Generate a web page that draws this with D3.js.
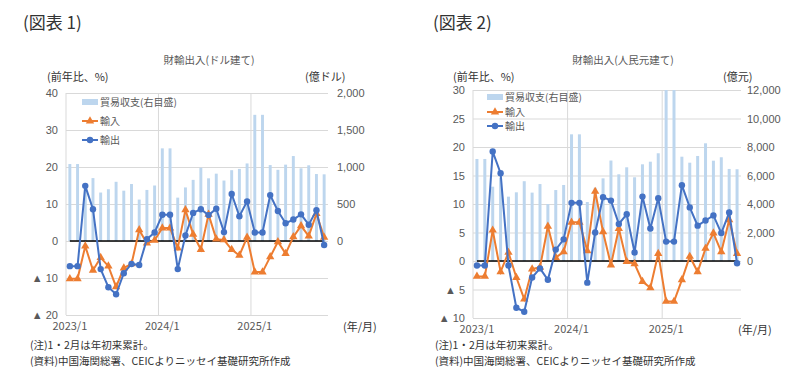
<!DOCTYPE html>
<html>
<head>
<meta charset="utf-8">
<script src="https://cdn.jsdelivr.net/npm/d3@7"></script>
<style>
  body { margin: 0; background: #fff; }
  svg { display: block; font-family: "Noto Sans CJK JP", "Noto Sans", sans-serif; }
</style>
</head>
<body>
<svg id="chart" width="800" height="392"></svg>
<script>
// months 2023/1 .. 2025/10 (1・2月は年初来累計なので同じ値)
var months = ["2023/1","2023/2","2023/3","2023/4","2023/5","2023/6","2023/7","2023/8","2023/9","2023/10","2023/11","2023/12",
  "2024/1","2024/2","2024/3","2024/4","2024/5","2024/6","2024/7","2024/8","2024/9","2024/10","2024/11","2024/12",
  "2025/1","2025/2","2025/3","2025/4","2025/5","2025/6","2025/7","2025/8","2025/9","2025/10"]
var xTickLabels = ["2023/1", "2024/1", "2025/1"]

// 図表1 ドル建て
var balanceUsd = [1040,1040,760,850,655,700,800,680,770,560,690,750,
  1252,1252,586,724,826,990,847,910,817,957,974,1048,
  1705,1705,1026,962,1032,1148,982,1023,905,901]
var importUsd = [-10.2,-10.2,-1.4,-7.9,-4.5,-6.8,-12.4,-7.3,-6.2,3.0,-0.6,0.2,
  3.5,3.5,-1.9,8.4,1.8,-2.3,7.2,0.5,0.3,-2.3,-3.9,1.0,
  -8.4,-8.4,-4.3,-0.2,-3.4,1.1,4.1,1.3,7.4,1.0]
var exportUsd = [-6.8,-6.8,14.9,8.6,-7.6,-12.5,-14.4,-8.7,-6.2,-6.5,0.5,2.3,
  7.1,7.1,-7.6,1.5,7.6,8.6,7.0,8.7,2.4,12.7,6.7,10.7,
  2.3,2.3,12.4,8.1,4.8,5.8,7.2,4.4,8.3,-1.1]
var leftTicks1 = [40, 30, 20, 10, 0, -10, -20]
var rightTicks1 = [2000, 1500, 1000, 500, 0]

// 図表2 人民元建て
var balanceRmb = [7160,7160,5215,5850,4515,4820,5600,4800,5400,4000,4980,5335,
  8890,8890,4140,5140,5800,7050,6085,6575,5875,6785,6970,7560,
  12240,12240,7320,6900,7370,8260,7040,7280,6460,6440]
var importRmb = [-2.7,-2.7,5.4,-1.9,1.5,-2.9,-6.7,-1.4,-1.1,6.1,0.6,1.6,
  6.8,6.8,1.8,12.2,5.1,-0.7,5.7,-0.1,-0.5,-3.6,-4.7,1.3,
  -7.1,-7.1,-3.3,0.8,-1.9,2.2,4.9,1.6,7.2,1.3]
var exportRmb = [-0.8,-0.8,19.2,15.4,-0.8,-8.2,-8.9,-2.9,-1.3,-3.3,2.0,3.8,
  10.2,10.2,-3.8,5.0,11.2,10.6,6.5,8.2,1.5,11.3,5.7,11.0,
  3.4,3.4,13.3,9.4,6.2,7.1,8.0,4.9,8.5,-0.4]
var leftTicks2 = [30, 25, 20, 15, 10, 5, 0, -5, -10]
var rightTicks2 = [12000, 10000, 8000, 6000, 4000, 2000, 0]

var notes = ["(注)1・2月は年初来累計。", "(資料)中国海関総署、CEICよりニッセイ基礎研究所作成"]

var colors = { bar: "#bdd6ee", exp: "#4472c4", imp: "#ed7d31", grid: "#d9d9d9", text: "#595959" }

var svg = d3.select("#chart")

function fmt(v) {
  return v < 0 ? "▲ " + (-v) : d3.format(",")(v)
}

function drawChart(c) {
  var g = svg.append("g")
  var w = c.x1 - c.x0

  var x = d3.scaleBand().domain(months).range([c.x0, c.x1])
  var yL = d3.scaleLinear().domain(c.leftDomain).range([c.yBottom, c.yTop])
  var yR = d3.scaleLinear().domain(c.rightDomain).range([c.yBottom, c.yTop])
  var cx = d => x(d) + x.bandwidth() / 2

  // header texts
  g.append("text").attr("x", c.figX).attr("y", 29).text(c.fig)
    .attr("font-size", 17).attr("fill", "#333")
  g.append("text").attr("x", c.titleX).attr("y", 64).attr("text-anchor", "middle")
    .attr("font-size", 10.5).attr("fill", colors.text).text(c.title)
  g.append("text").attr("x", c.leftUnitX).attr("y", 81).attr("font-size", 11)
    .attr("fill", "#333").text("(前年比、%)")
  g.append("text").attr("x", c.rightUnitX).attr("y", 81).attr("font-size", 11)
    .attr("fill", "#333").text(c.rightUnit)

  // left axis + horizontal grid
  var la = g.append("g").attr("transform", `translate(${c.x0},0)`)
    .call(d3.axisLeft(yL).tickValues(c.leftTicks).tickSize(-w).tickPadding(8).tickFormat(fmt))
  la.select(".domain").remove()
  la.selectAll("line").attr("stroke", colors.grid)
  la.selectAll("text").attr("fill", colors.text).attr("font-size", 11).attr("font-family", null)

  var ra = g.append("g").attr("transform", `translate(${c.x1},0)`)
    .call(d3.axisRight(yR).tickValues(c.rightTicks).tickSize(0).tickPadding(c.rightPad).tickFormat(fmt))
  ra.select(".domain").remove()
  ra.selectAll("text").attr("fill", colors.text).attr("font-size", 11).attr("font-family", null)

  // vertical grid at each year start
  g.selectAll(".vgrid").data(xTickLabels).enter().append("line")
    .attr("x1", d => x(d)).attr("x2", d => x(d))
    .attr("y1", c.yTop).attr("y2", c.yBottom)
    .attr("stroke", colors.grid)

  g.selectAll(".xlab").data(xTickLabels).enter().append("text")
    .attr("x", cx).attr("y", c.yBottom + 15).attr("text-anchor", "middle")
    .attr("font-size", 11).attr("fill", colors.text).text(d => d)
  g.append("text").attr("x", c.unitX).attr("y", c.yBottom + 16).attr("font-size", 11)
    .attr("fill", "#333").text("(年/月)")

  // bars (right scale)
  var clipId = "clip" + c.id
  g.append("clipPath").attr("id", clipId).append("rect")
    .attr("x", c.x0).attr("y", c.yTop).attr("width", w).attr("height", c.yBottom - c.yTop)
  var barW = x.bandwidth() * 0.38
  g.append("g").attr("clip-path", `url(#${clipId})`)
    .selectAll("rect").data(c.balance).enter().append("rect")
    .attr("x", (d, i) => cx(months[i]) - barW / 2)
    .attr("y", d => yR(Math.max(d, 0)))
    .attr("width", barW)
    .attr("height", d => Math.abs(yR(d) - yR(0)))
    .attr("fill", colors.bar)

  // zero line
  g.append("line")
    .attr("x1", cx(months[0])).attr("x2", cx(months[months.length - 1]))
    .attr("y1", yL(0)).attr("y2", yL(0))
    .attr("stroke", "#000").attr("stroke-width", 1.5)

  var line = d3.line().x((d, i) => cx(months[i])).y(d => yL(d))

  g.append("path").datum(c.imports).attr("d", line)
    .attr("fill", "none").attr("stroke", colors.imp).attr("stroke-width", 2)
  g.selectAll(".imp").data(c.imports).enter().append("path")
    .attr("d", d3.symbol(d3.symbolTriangle, 30))
    .attr("transform", (d, i) => `translate(${cx(months[i])},${yL(d)})`)
    .attr("fill", colors.imp)

  g.append("path").datum(c.exports).attr("d", line)
    .attr("fill", "none").attr("stroke", colors.exp).attr("stroke-width", 2)
  g.selectAll(".exp").data(c.exports).enter().append("circle")
    .attr("cx", (d, i) => cx(months[i])).attr("cy", d => yL(d)).attr("r", 3.2)
    .attr("fill", colors.exp)

  // legend
  var lg = g.append("g").attr("transform", `translate(${c.legX},${c.legY})`)
  lg.append("rect").attr("x", 0).attr("y", -3).attr("width", 16).attr("height", 6).attr("fill", colors.bar)
  lg.append("text").attr("x", 18).attr("y", 0).attr("dy", "0.35em").attr("font-size", 10)
    .attr("fill", colors.text).text("貿易収支(右目盛)")
  var items = [["輸入", colors.imp, "tri"], ["輸出", colors.exp, "dot"]]
  items.forEach((it, k) => {
    var yy = c.legStep[k]
    lg.append("line").attr("x1", 0).attr("x2", 16).attr("y1", yy).attr("y2", yy)
      .attr("stroke", it[1]).attr("stroke-width", 2)
    if (it[2] == "tri") {
      lg.append("path").attr("d", d3.symbol(d3.symbolTriangle, 30))
        .attr("transform", `translate(8,${yy})`).attr("fill", it[1])
    } else {
      lg.append("circle").attr("cx", 8).attr("cy", yy).attr("r", 3.2).attr("fill", it[1])
    }
    lg.append("text").attr("x", 18).attr("y", yy).attr("dy", "0.35em").attr("font-size", 10)
      .attr("fill", colors.text).text(it[0])
  })

  // notes
  notes.forEach((t, k) => {
    g.append("text").attr("x", c.noteX).attr("y", 349 + k * 16).attr("font-size", 10.5)
      .attr("fill", "#333").text(t)
  })
}

drawChart({
  id: 1, fig: "(図表 1)", figX: 23, title: "財輸出入(ドル建て)", titleX: 209,
  leftUnitX: 47, rightUnit: "(億ドル)", rightUnitX: 305,
  x0: 66, x1: 328, yTop: 93, yBottom: 315,
  leftDomain: [-20, 40], rightDomain: [-1000, 2000],
  leftTicks: leftTicks1, rightTicks: rightTicks1, rightPad: 9, unitX: 343,
  balance: balanceUsd, imports: importUsd, exports: exportUsd,
  legX: 82, legY: 102, legStep: [19, 38], noteX: 30
})

drawChart({
  id: 2, fig: "(図表 2)", figX: 433, title: "財輸出入(人民元建て)", titleX: 623,
  leftUnitX: 453, rightUnit: "(億元)", rightUnitX: 723,
  x0: 473, x1: 741, yTop: 90, yBottom: 318,
  leftDomain: [-10, 30], rightDomain: [-4000, 12000],
  leftTicks: leftTicks2, rightTicks: rightTicks2, rightPad: 6, unitX: 738,
  balance: balanceRmb, imports: importRmb, exports: exportRmb,
  legX: 487, legY: 97, legStep: [15, 29], noteX: 435
})
</script>
</body>
</html>
